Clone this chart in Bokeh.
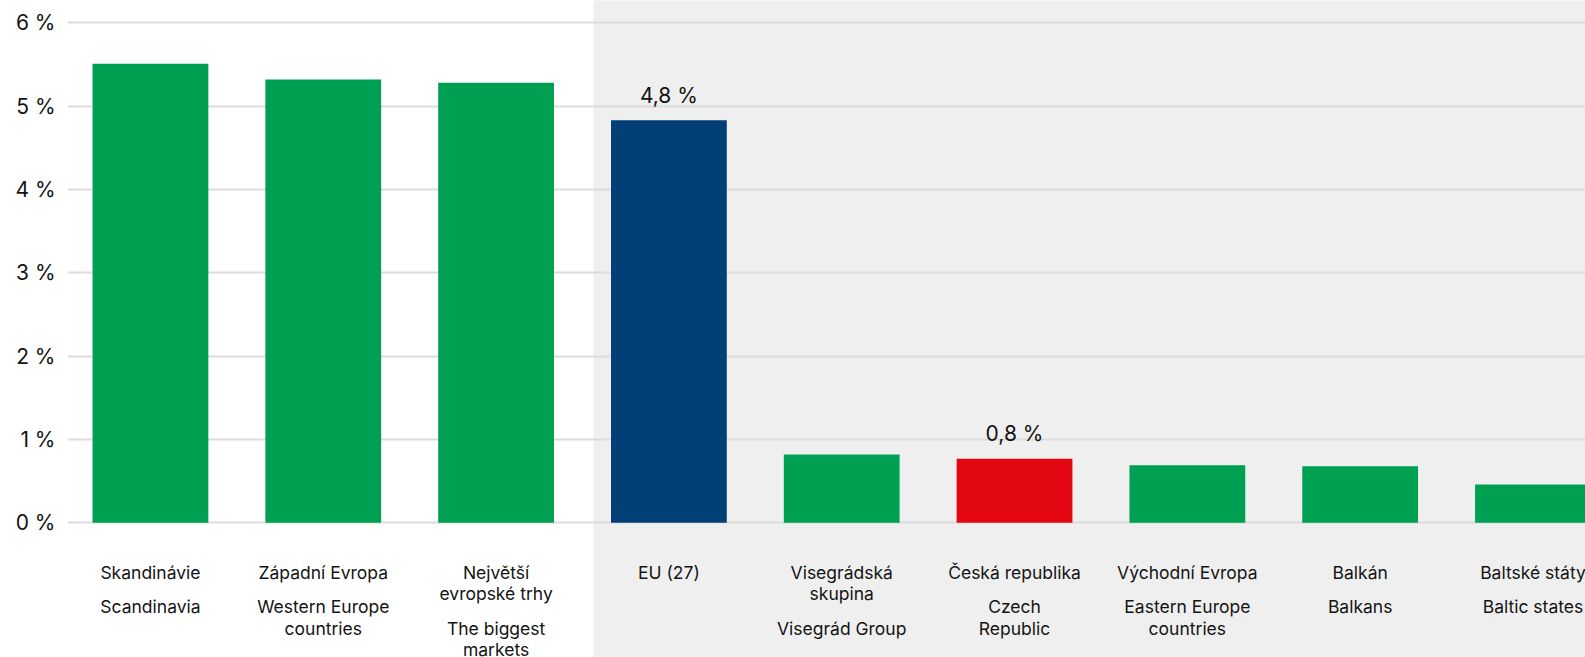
from bokeh.plotting import figure
from bokeh.models import Range1d, FixedTicker, ColumnDataSource
from bokeh.core.properties import value
from bokeh.embed import file_html
from bokeh.resources import INLINE

# ---- data ----
labels_cz = ["Skandinávie", "Západní Evropa", "Největší\nevropské trhy", "EU (27)",
             "Visegrádská\nskupina", "Česká republika", "Východní Evropa", "Balkán", "Baltské státy"]
labels_en = ["Scandinavia", "Western Europe\ncountries", "The biggest\nmarkets", "",
             "Visegrád Group", "Czech\nRepublic", "Eastern Europe\ncountries", "Balkans", "Baltic states"]
values = [5.51, 5.32, 5.28, 4.83, 0.82, 0.77, 0.69, 0.68, 0.46]
value_labels = ["", "", "", "4,8 %", "", "0,8 %", "", "", ""]
y_ticks = [0, 1, 2, 3, 4, 5, 6]
y_tick_labels = ["0 %", "1 %", "2 %", "3 %", "4 %", "5 %", "6 %"]

# ---- style ----
GREEN = "#00a052"
NAVY = "#004077"
RED = "#e30613"
BG_GREY = "#efefef"
GRID = "#dcdcdc"
TXT = "#141414"
FONT = "Inter"

colors = [NAVY if c == "EU (27)" else RED if c == "Česká republika" else GREEN for c in labels_cz]
xs = list(range(len(values)))

W, H = 1585, 657
p = figure(width=W, height=H, output_backend="svg", toolbar_location=None,
           x_range=Range1d(-0.48, 8.304), y_range=Range1d(-1.616, 6.268),
           min_border=0, min_border_left=67, outline_line_color=None,
           background_fill_color="white", border_fill_color="white")

# grey shaded region (right part)
p.quad(left=[2.564], right=[50], bottom=[-50], top=[50], fill_color=BG_GREY,
       line_color=None, level="image")

# bars
src = ColumnDataSource(dict(x=xs, top=values, color=colors, lab=value_labels))
p.vbar(x="x", top="top", bottom=0, width=0.67, fill_color="color", line_color=None, source=src)

# value labels
p.text(x="x", y="top", text="lab", source=src, text_align="center", text_baseline="middle",
       y_offset=-25, text_font=value(FONT), text_font_size="21px", text_color=TXT)

# category labels (Czech, then English)
LH = 21.5
lx, loff, ltxt = [], [], []
for i, (cz, en) in enumerate(zip(labels_cz, labels_en)):
    cz_lines = cz.split("\n")
    for j, t in enumerate(cz_lines):
        lx.append(i); loff.append(49.4 + j * LH); ltxt.append(t)
    start = 49.4 + (len(cz_lines) - 1) * LH + 34.5
    if en:
        for j, t in enumerate(en.split("\n")):
            lx.append(i); loff.append(start + j * LH); ltxt.append(t)
lsrc = ColumnDataSource(dict(x=lx, y=[0] * len(lx), off=loff, t=ltxt))
p.text(x="x", y="y", text="t", y_offset="off", source=lsrc, text_align="center",
       text_baseline="middle", text_font=value(FONT), text_font_size="17.5px", text_color=TXT)

# axes
p.xaxis.visible = False
p.xgrid.visible = False
yax = p.yaxis[0]
yax.ticker = FixedTicker(ticks=y_ticks)
yax.major_label_overrides = {t: l for t, l in zip(y_ticks, y_tick_labels)}
yax.axis_line_color = None
yax.major_tick_line_color = None
yax.minor_tick_line_color = None
yax.major_tick_out = 0
yax.major_tick_in = 0
yax.major_label_standoff = 12
yax.major_label_text_font = FONT
yax.major_label_text_font_size = "21px"
yax.major_label_text_color = TXT
p.ygrid.ticker = FixedTicker(ticks=y_ticks)
p.ygrid.grid_line_color = GRID
p.ygrid.grid_line_width = 2

open("out.html", "w").write(file_html(p, INLINE))
